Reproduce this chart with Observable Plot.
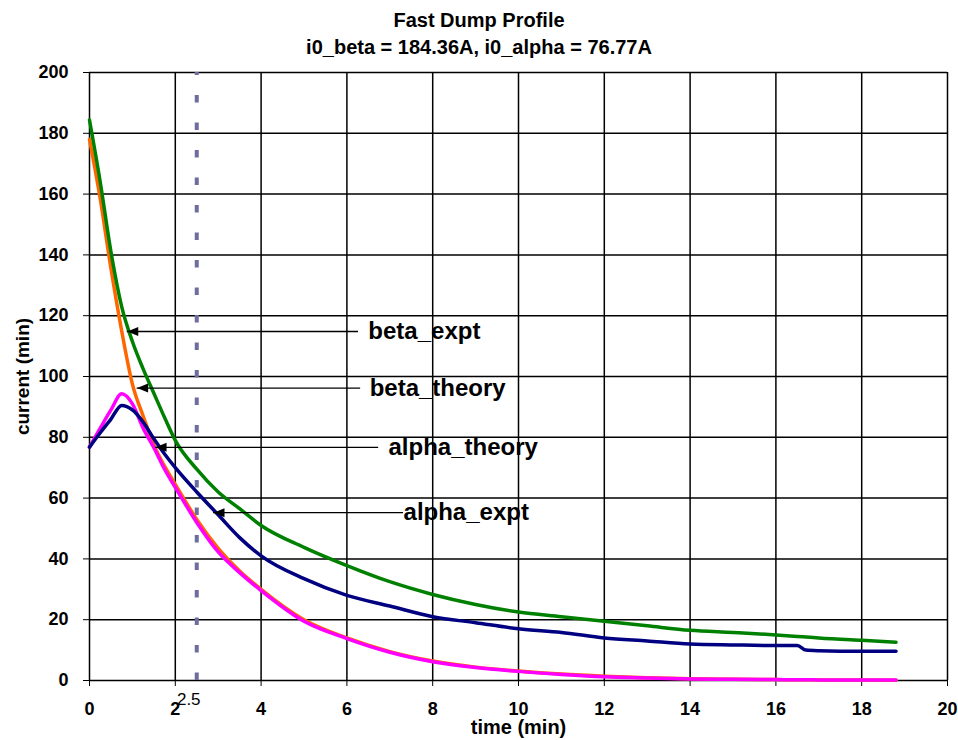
<!DOCTYPE html>
<html>
<head>
<meta charset="utf-8">
<script src="https://cdn.jsdelivr.net/npm/d3@7"></script>
<script src="https://cdn.jsdelivr.net/npm/@observablehq/plot@0.6"></script>
<style>
  body { margin: 0; background: #fff; font-family: "Liberation Sans", Arial, sans-serif; }
  #title { width: 958px; text-align: center; font-weight: bold; font-size: 20px; line-height: 27px; padding-top: 7px; height: 53px; color: #000; }
  svg { display: block; }
</style>
</head>
<body>
<div id="title"><div>Fast Dump Profile</div><div>i0_beta = 184.36A, i0_alpha = 76.77A</div></div>
<div id="chart"></div>
<script>
// ---- data ----
const timeMin = [0,0.25,0.5,0.75,1,1.25,1.5,1.75,2,2.5,3,3.5,4,5,6,7,8,9,10,11,12,13,14,15,16,16.5,16.7,17,18,18.8];
const betaExpt = [184.36,164,141,123,111.5,102.5,94.5,86.5,79,69.5,62,56.5,51,43.8,37.8,32.5,28.3,25,22.5,21,19.5,18,16.5,15.8,15,14.5,14.3,14,13.2,12.6];
const betaTheory = [178,158.5,135.5,115,97.5,87,77.5,70.5,64.5,53,43.5,36,30,20,14,9.5,6.4,4.4,3.1,2.1,1.4,0.9,0.6,0.4,0.3,0.25,0.25,0.2,0.15,0.1];
const alphaTheory = [76.77,83,89,94.3,91,83,76.6,69.5,63.5,52,42.3,35.5,29.6,19.5,13.8,9.3,6.2,4.3,3.0,2,1.2,0.8,0.5,0.4,0.3,0.25,0.25,0.2,0.2,0.2];
const alphaExpt = [76.77,81.5,86,90.5,89,85,79.5,74.5,70,62,54.5,47,41,33.5,28,24.5,21,19,17,15.8,14,13,12,11.7,11.5,11.5,10,9.8,9.6,9.6];

const seriesNames = ["beta_expt","beta_theory","alpha_theory","alpha_expt"];
const seriesColors = ["#008000","#ff6600","#ff00ff","#000080"];

const xTicks = [0,2,4,6,8,10,12,14,16,18,20];
const yTicks = [0,20,40,60,80,100,120,140,160,180,200];
const markerTime = 2.5;

// annotation callouts
const annoLabels = ["beta_expt","beta_theory","alpha_theory","alpha_expt"];
const annoTipX = [0.88,1.11,1.54,2.89];
const annoY = [114.8,96.2,76.7,55.2];
const annoLineEndX = [6.27,6.32,6.74,7.32];
const annoTextX = [6.5,6.53,6.97,7.32];

// ---- build tables ----
const valuesBySeries = [betaExpt, betaTheory, alphaTheory, alphaExpt];
const drawOrder = [1,2,0,3];
const lines = [];
drawOrder.forEach(si => {
  const vals = valuesBySeries[si];
  timeMin.forEach((t,i) => lines.push({series: seriesNames[si], t, v: vals[i]}));
});
const anno = annoLabels.map((label,i) => ({label, tip: annoTipX[i], y: annoY[i], end: annoLineEndX[i], tx: annoTextX[i]}));

const leftTriangle = {
  draw(ctx) { ctx.moveTo(0,0); ctx.lineTo(11,-4.5); ctx.lineTo(11,4.5); ctx.closePath(); }
};

const font = "Liberation Sans, Arial, sans-serif";
const chart = Plot.plot({
  width: 958,
  height: 680,
  marginTop: 12,
  marginBottom: 60,
  marginLeft: 89,
  marginRight: 11,
  style: {fontFamily: font, color: "#000", background: "#fff"},
  x: {domain: [0,20]},
  y: {domain: [0,200]},
  color: {domain: seriesNames, range: seriesColors},
  marks: [
    Plot.gridX(xTicks, {stroke: "#000", strokeOpacity: 1, strokeWidth: 1.5}),
    Plot.gridY(yTicks, {stroke: "#000", strokeOpacity: 1, strokeWidth: 1.5}),
    Plot.axisX(xTicks, {tickSize: 6, tickPadding: 16, fontSize: 18, fontWeight: "bold", label: null, stroke: "#000"}),
    Plot.axisY(yTicks, {tickSize: 6, tickPadding: 15, fontSize: 18, fontWeight: "bold", label: null, stroke: "#000"}),
    Plot.ruleX([markerTime], {y1: 0, y2: 200, stroke: "#6e6e9e", strokeWidth: 4, strokeDasharray: "7.5,20"}),
    Plot.text([markerTime], {x: d => d, y: 0, text: d => String(d), dx: -8, dy: 19, fontSize: 17, fill: "#000"}),
    Plot.line(lines, {x: "t", y: "v", z: "series", stroke: "series", strokeWidth: 3.5, curve: "monotone-x"}),
    Plot.ruleY(anno, {y: "y", x1: "tip", x2: "end", stroke: "#000", strokeWidth: 1.3}),
    Plot.dot(anno, {x: "tip", y: "y", symbol: leftTriangle, fill: "#000", stroke: null}),
    Plot.text(anno, {x: "tx", y: "y", text: "label", textAnchor: "start", fontSize: 24, fontWeight: "bold", fill: "#000"}),
    Plot.text(["time (min)"], {frameAnchor: "bottom", lineAnchor: "middle", dy: 47, fontSize: 20, fontWeight: "bold", fill: "#000"}),
    Plot.text(["current (min)"], {frameAnchor: "left", y: () => 100, textAnchor: "middle", dx: -67, rotate: -90, fontSize: 19, fontWeight: "bold", fill: "#000"})
  ]
});
document.getElementById("chart").appendChild(chart);
</script>
</body>
</html>
